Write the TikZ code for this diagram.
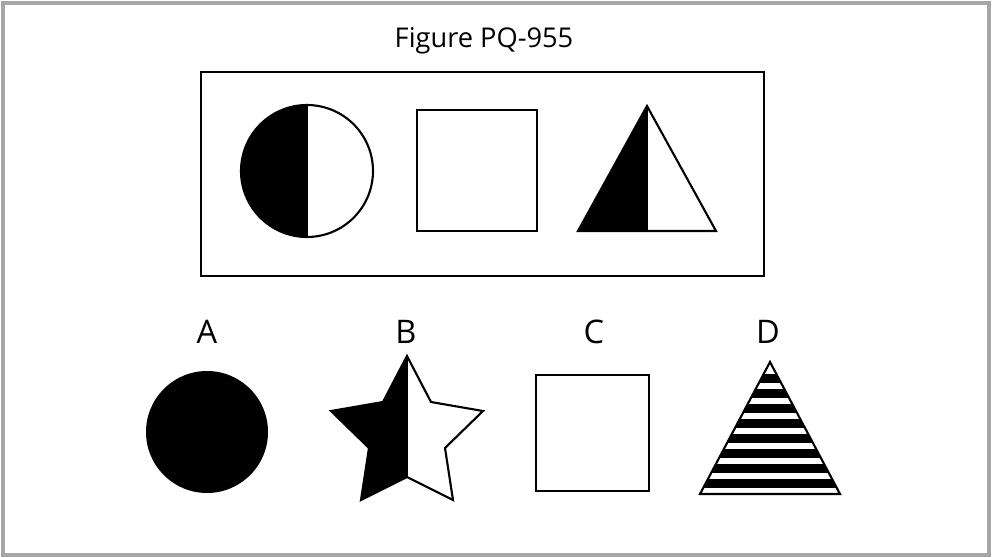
\documentclass[tikz,border=0pt]{standalone}
\usepackage{fontspec}
\setmainfont{Open Sans}
\usetikzlibrary{positioning}

\begin{document}
\begin{tikzpicture}[x=0.02cm,y=-0.02cm,
outline/.style={draw,line width=1.2pt},
lbl/.style={font=\fontsize{18.5}{20}\selectfont,inner sep=0pt}]
\useasboundingbox (0,0) rectangle (992,558);
\draw[gray!70,line width=2pt] (3,3) rectangle (989,555);
\node[font=\fontsize{15.5}{18}\selectfont] (title) at (484,41) {Figure PQ-955};
% question box
\draw[outline] (201,72) rectangle (764,276);
% half circle
\fill (307,105) arc[start angle=270,end angle=90,radius=66] -- cycle;
\draw[outline] (307,171) circle[radius=66];
\draw[line width=1.2pt] (307,105) -- (307,237);
% square
\draw[outline] (417,110) rectangle (537,231);
% half triangle
\fill (647,106) -- (578,231) -- (647,231) -- cycle;
\draw[outline,line join=miter] (647,106) -- (578,231) -- (716,231) -- cycle;
\draw[line width=1.2pt] (647,106) -- (647,231);
% answers
\node[lbl] (la) at (207,332) {A};
\node[lbl] (lb) at (406,332) {B};
\node[lbl] (lc) at (594,332) {C};
\node[lbl] (ld) at (768,332) {D};
\fill (207,432) circle[radius=61];
% star
\begin{scope}
\clip (320,340) rectangle (407,510);
\fill (407,356) -- (431,402) -- (483,411) -- (445,448) -- (453,500) -- (407,477)
  -- (361,500) -- (369,448) -- (331,411) -- (383,402) -- cycle;
\end{scope}
\draw[outline,line join=miter] (407,356) -- (431,402) -- (483,411) -- (445,448) -- (453,500) -- (407,477)
  -- (361,500) -- (369,448) -- (331,411) -- (383,402) -- cycle;
\draw[line width=1.2pt] (407,356) -- (407,477);
% square
\draw[outline] (536,375) rectangle (649,491);
% striped triangle
\begin{scope}
\clip (770,362) -- (700,494) -- (840,494) -- cycle;
\foreach \k in {0,...,7}
  \fill (690,373.5+15*\k) rectangle (850,382.5+15*\k);
\end{scope}
\draw[outline,line join=miter] (770,362) -- (700,494) -- (840,494) -- cycle;
\end{tikzpicture}
\end{document}
